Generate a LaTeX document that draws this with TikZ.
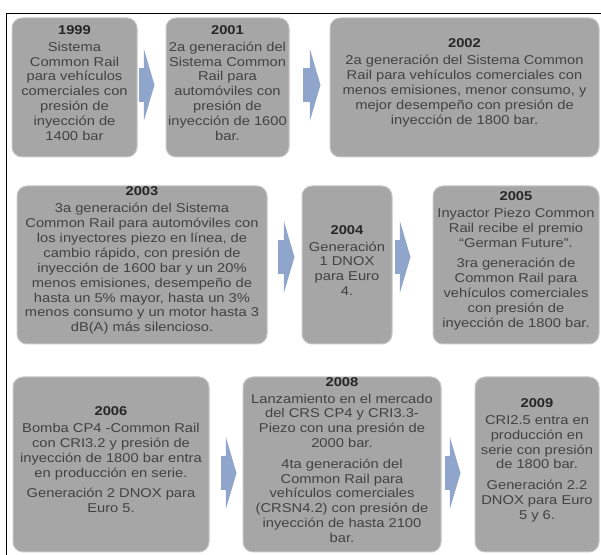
\documentclass[tikz,border=0pt]{standalone}
\usepackage{fontspec}
\setmainfont[FakeStretch=1.15]{Liberation Sans}
\usepackage{tikz}
\usetikzlibrary{arrows.meta, fit}
\definecolor{boxgray}{RGB}{166,166,166}
\definecolor{boxedge}{RGB}{198,198,198}
\definecolor{arrowblue}{RGB}{143,165,204}
\definecolor{textgray}{RGB}{66,66,66}
\newcommand{\yr}[1]{{\color{black!85}\bfseries #1}\\[1.5pt]}

\begin{document}
\begin{tikzpicture}[x=0.75pt, y=-0.75pt,
  box/.style={fill=boxgray, draw=boxedge, line width=0.75pt, rounded corners=7.5pt, inner sep=0pt, align=center, text=textgray, font=\fontsize{9.6}{11.2}\selectfont},
  blockarrow/.style={arrowblue, line width=26pt, -{Triangle[length=8pt,width=54pt]}}]
\useasboundingbox (0,0) rectangle (601,555);
\draw[line width=0.75pt] (6,555) -- (6,14) -- (601,14);
\node (b1999) [box, fit={(12,18) (137,157)}] {\yr{1999}Sistema\\Common Rail\\para vehículos\\comerciales con\\presión de\\inyección de\\1400 bar};
\node (b2001) [box, fit={(166,18) (289,157)}] {\yr{2001}2a generación del\\Sistema Common\\Rail para\\automóviles con\\presión de\\inyección de 1600\\bar.};
\node (b2002) [box, fit={(330,18) (599,157)}] {\yr{2002}2a generación del Sistema Common\\Rail para vehículos comerciales con\\menos emisiones, menor consumo, y\\mejor desempeño con presión de\\inyección de 1800 bar.};
\node (b2003) [box, fit={(17,186) (267,344)}] {\yr{2003}3a generación del Sistema\\Common Rail para automóviles con\\los inyectores piezo en línea, de\\cambio rápido, con presión de\\inyección de 1600 bar y un 20\%\\menos emisiones, desempeño de\\hasta un 5\% mayor, hasta un 3\%\\menos consumo y un motor hasta 3\\dB(A) más silencioso.};
\node (b2004) [box, fit={(302,186) (392,344)}] {\yr{2004}Generación\\1 DNOX\\para Euro\\4.};
\node (b2005) [box, fit={(433,186) (599,344)}] {\yr{2005}Inyactor Piezo Common\\Rail recibe el premio\\``German Future''.\\[4pt]3ra generación de\\Common Rail para\\vehículos comerciales\\con presión de\\inyección de 1800 bar.};
\node (b2006) [box, fit={(13,377) (209,552)}] {\yr{2006}Bomba CP4 -Common Rail\\con CRI3.2 y presión de\\inyección de 1800 bar entra\\en producción en serie.\\[4pt]Generación 2 DNOX para\\Euro 5.};
\node (b2008) [box, fit={(243,377) (441,552)}] {\yr{2008}Lanzamiento en el mercado\\del CRS CP4 y CRI3.3-\\Piezo con una presión de\\2000 bar.\\[4pt]4ta generación del\\Common Rail para\\vehículos comerciales\\(CRSN4.2) con presión de\\inyección de hasta 2100\\bar.};
\node (b2009) [box, fit={(475,377) (599,552)}] {\yr{2009}CRI2.5 entra en\\producción en\\serie con presión\\de 1800 bar.\\[4pt]Generación 2.2\\DNOX para Euro\\5 y 6.};
\draw[blockarrow, shorten <=0.75pt, shorten >=8.25pt] ([yshift=1.9pt]b1999.east) -- ([yshift=1.9pt]b2001.west);
\draw[blockarrow, shorten <=9.75pt, shorten >=6.75pt] ([yshift=1.9pt]b2001.east) -- ([yshift=1.9pt]b2002.west);
\draw[blockarrow, shorten <=7.5pt, shorten >=5.25pt] ([yshift=6pt]b2003.east) -- ([yshift=6pt]b2004.west);
\draw[blockarrow, shorten <=1.5pt, shorten >=16.5pt] ([yshift=6pt]b2004.east) -- ([yshift=6pt]b2005.west);
\draw[blockarrow, shorten <=8.25pt, shorten >=4.5pt] ([yshift=-6.4pt]b2006.east) -- ([yshift=-6.4pt]b2008.west);
\draw[blockarrow, shorten <=2.25pt, shorten >=10.5pt] ([yshift=-6.4pt]b2008.east) -- ([yshift=-6.4pt]b2009.west);
\end{tikzpicture}
\end{document}
